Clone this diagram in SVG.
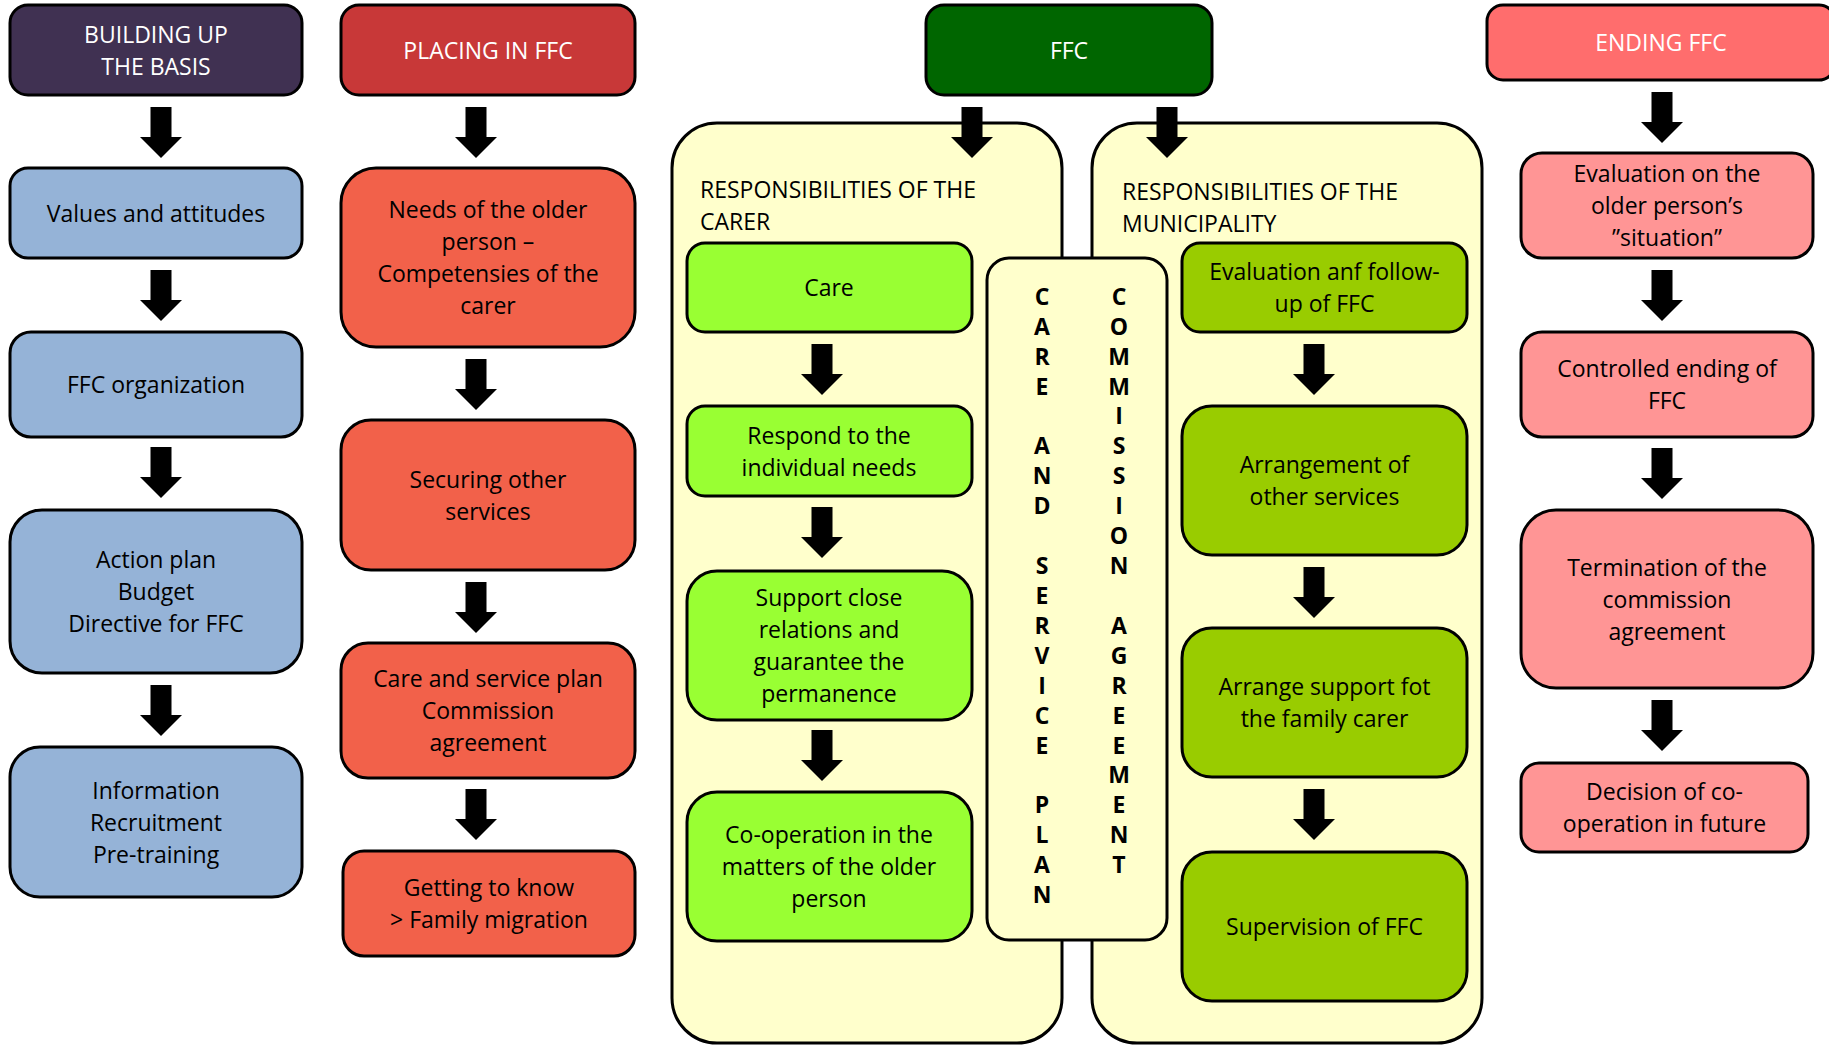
<svg xmlns="http://www.w3.org/2000/svg" xmlns:xlink="http://www.w3.org/1999/xlink" width="1829" height="1045" viewBox="0 0 1829 1045">
<defs>
<style>
.b{stroke:#000;stroke-width:3}
.t{font-family:"Open Sans","Liberation Sans",sans-serif;font-size:23px;text-anchor:middle;fill:#000}
.w{fill:#fff}
.l{text-anchor:start}
.v{font-family:"Open Sans","Liberation Sans",sans-serif;font-size:23px;font-weight:bold;text-anchor:middle;fill:#000}
.hd1{fill:#403152}.hd2{fill:#C83838}.hd3{fill:#006600}.hd4{fill:#FF6D6D}
.blue{fill:#95B3D7}.red{fill:#F2614A}.lime{fill:#99FF33}.olive{fill:#99CC00}.pink{fill:#FF9595}.pan{fill:#FFFFCC}
</style>
<path id="arr" d="M-10.5,0 H10.5 V30 H21 L0,51 L-21,30 H-10.5 Z" fill="#000"/>
</defs>
<rect width="1829" height="1045" fill="#fff"/>

<g id="panel-carer">
<rect class="b pan" x="672" y="123" width="390" height="920" rx="45"/>
<text class="t l" x="700" y="198">RESPONSIBILITIES OF THE</text>
<text class="t l" x="700" y="230">CARER</text>
</g>
<g id="panel-municipality">
<rect class="b pan" x="1092" y="123" width="390" height="920" rx="45"/>
<text class="t l" x="1122" y="200">RESPONSIBILITIES OF THE</text>
<text class="t l" x="1122" y="232">MUNICIPALITY</text>
</g>
<g id="plan-agreement">
<rect class="b pan" x="987" y="258" width="180" height="682" rx="22"/>
<g class="v">
<text x="1042" y="305">C</text><text x="1042" y="335">A</text><text x="1042" y="365">R</text><text x="1042" y="395">E</text>
<text x="1042" y="454">A</text><text x="1042" y="484">N</text><text x="1042" y="514">D</text>
<text x="1042" y="574">S</text><text x="1042" y="604">E</text><text x="1042" y="634">R</text><text x="1042" y="664">V</text><text x="1042" y="694">I</text><text x="1042" y="724">C</text><text x="1042" y="754">E</text>
<text x="1042" y="813">P</text><text x="1042" y="843">L</text><text x="1042" y="873">A</text><text x="1042" y="903">N</text>
<text x="1119" y="305">C</text><text x="1119" y="335">O</text><text x="1119" y="365">M</text><text x="1119" y="395">M</text><text x="1119" y="424">I</text><text x="1119" y="454">S</text><text x="1119" y="484">S</text><text x="1119" y="514">I</text><text x="1119" y="544">O</text><text x="1119" y="574">N</text>
<text x="1119" y="634">A</text><text x="1119" y="664">G</text><text x="1119" y="694">R</text><text x="1119" y="724">E</text><text x="1119" y="754">E</text><text x="1119" y="783">M</text><text x="1119" y="813">E</text><text x="1119" y="843">N</text><text x="1119" y="873">T</text>
</g>
</g>

<g id="h-building">
<rect class="b hd1" x="10" y="5" width="292" height="90" rx="18"/>
<text class="t w" x="156" y="42.5">BUILDING UP</text>
<text class="t w" x="156" y="74.5">THE BASIS</text>
</g>
<g id="values">
<rect class="b blue" x="10" y="168" width="292" height="90" rx="18"/>
<text class="t" x="156" y="221.5">Values and attitudes</text>
</g>
<g id="ffc-org">
<rect class="b blue" x="10" y="332" width="292" height="105" rx="21"/>
<text class="t" x="156" y="393">FFC organization</text>
</g>
<g id="action-plan">
<rect class="b blue" x="10" y="510" width="292" height="163" rx="32"/>
<text class="t" x="156" y="568">Action plan</text>
<text class="t" x="156" y="600">Budget</text>
<text class="t" x="156" y="632">Directive for FFC</text>
</g>
<g id="information">
<rect class="b blue" x="10" y="747" width="292" height="150" rx="30"/>
<text class="t" x="156" y="798.5">Information</text>
<text class="t" x="156" y="830.5">Recruitment</text>
<text class="t" x="156" y="862.5">Pre-training</text>
</g>

<g id="h-placing">
<rect class="b hd2" x="341" y="5" width="294" height="90" rx="18"/>
<text class="t w" x="488" y="59">PLACING IN FFC</text>
</g>
<g id="needs">
<rect class="b red" x="341" y="168" width="294" height="179" rx="35"/>
<text class="t" x="488" y="218">Needs of the older</text>
<text class="t" x="488" y="250">person –</text>
<text class="t" x="488" y="282">Competensies of the</text>
<text class="t" x="488" y="314">carer</text>
</g>
<g id="securing">
<rect class="b red" x="341" y="420" width="294" height="150" rx="30"/>
<text class="t" x="488" y="487.5">Securing other</text>
<text class="t" x="488" y="519.5">services</text>
</g>
<g id="care-plan">
<rect class="b red" x="341" y="643" width="294" height="135" rx="27"/>
<text class="t" x="488" y="687">Care and service plan</text>
<text class="t" x="488" y="719">Commission</text>
<text class="t" x="488" y="751">agreement</text>
</g>
<g id="getting">
<rect class="b red" x="343" y="851" width="292" height="105" rx="21"/>
<text class="t" x="489" y="896">Getting to know</text>
<text class="t" x="489" y="928">&gt; Family migration</text>
</g>

<g id="h-ffc">
<rect class="b hd3" x="926" y="5" width="286" height="90" rx="18"/>
<text class="t w" x="1069" y="59">FFC</text>
</g>
<g id="care">
<rect class="b lime" x="687" y="243" width="285" height="89" rx="18"/>
<text class="t" x="829" y="296">Care</text>
</g>
<g id="respond">
<rect class="b lime" x="687" y="406" width="285" height="90" rx="18"/>
<text class="t" x="829" y="443.5">Respond to the</text>
<text class="t" x="829" y="475.5">individual needs</text>
</g>
<g id="support">
<rect class="b lime" x="687" y="571" width="285" height="149" rx="30"/>
<text class="t" x="829" y="606">Support close</text>
<text class="t" x="829" y="638">relations and</text>
<text class="t" x="829" y="670">guarantee the</text>
<text class="t" x="829" y="702">permanence</text>
</g>
<g id="cooperation">
<rect class="b lime" x="687" y="792" width="285" height="149" rx="30"/>
<text class="t" x="829" y="843">Co-operation in the</text>
<text class="t" x="829" y="875">matters of the older</text>
<text class="t" x="829" y="907">person</text>
</g>

<g id="evaluation-ffc">
<rect class="b olive" x="1182" y="243" width="285" height="89" rx="18"/>
<text class="t" x="1324.5" y="280">Evaluation anf follow-</text>
<text class="t" x="1324.5" y="312">up of FFC</text>
</g>
<g id="arrangement">
<rect class="b olive" x="1182" y="406" width="285" height="149" rx="30"/>
<text class="t" x="1324.5" y="473">Arrangement of</text>
<text class="t" x="1324.5" y="505">other services</text>
</g>
<g id="arrange-support">
<rect class="b olive" x="1182" y="628" width="285" height="149" rx="30"/>
<text class="t" x="1324.5" y="695">Arrange support fot</text>
<text class="t" x="1324.5" y="727">the family carer</text>
</g>
<g id="supervision">
<rect class="b olive" x="1182" y="852" width="285" height="149" rx="30"/>
<text class="t" x="1324.5" y="935">Supervision of FFC</text>
</g>

<g id="h-ending">
<rect class="b hd4" x="1487" y="5" width="348" height="75" rx="16"/>
<text class="t w" x="1661" y="51">ENDING FFC</text>
</g>
<g id="eval-situation">
<rect class="b pink" x="1521" y="153" width="292" height="105" rx="21"/>
<text class="t" x="1667" y="182">Evaluation on the</text>
<text class="t" x="1667" y="214">older person’s</text>
<text class="t" x="1667" y="246">”situation”</text>
</g>
<g id="controlled">
<rect class="b pink" x="1521" y="332" width="292" height="105" rx="21"/>
<text class="t" x="1667" y="377">Controlled ending of</text>
<text class="t" x="1667" y="409">FFC</text>
</g>
<g id="termination">
<rect class="b pink" x="1521" y="510" width="292" height="178" rx="35"/>
<text class="t" x="1667" y="575.5">Termination of the</text>
<text class="t" x="1667" y="607.5">commission</text>
<text class="t" x="1667" y="639.5">agreement</text>
</g>
<g id="decision">
<rect class="b pink" x="1521" y="763" width="287" height="89" rx="18"/>
<text class="t" x="1664.5" y="800">Decision of co-</text>
<text class="t" x="1664.5" y="832">operation in future</text>
</g>

<g id="connectors">
<use xlink:href="#arr" x="161" y="107"/>
<use xlink:href="#arr" x="161" y="270"/>
<use xlink:href="#arr" x="161" y="447"/>
<use xlink:href="#arr" x="161" y="685"/>
<use xlink:href="#arr" x="476" y="107"/>
<use xlink:href="#arr" x="476" y="359"/>
<use xlink:href="#arr" x="476" y="582"/>
<use xlink:href="#arr" x="476" y="789"/>
<use xlink:href="#arr" x="972" y="107"/>
<use xlink:href="#arr" x="1167" y="107"/>
<use xlink:href="#arr" x="822" y="344"/>
<use xlink:href="#arr" x="822" y="507"/>
<use xlink:href="#arr" x="822" y="730"/>
<use xlink:href="#arr" x="1314" y="344"/>
<use xlink:href="#arr" x="1314" y="567"/>
<use xlink:href="#arr" x="1314" y="789"/>
<use xlink:href="#arr" x="1662" y="92"/>
<use xlink:href="#arr" x="1662" y="270"/>
<use xlink:href="#arr" x="1662" y="448"/>
<use xlink:href="#arr" x="1662" y="700"/>
</g>
</svg>
